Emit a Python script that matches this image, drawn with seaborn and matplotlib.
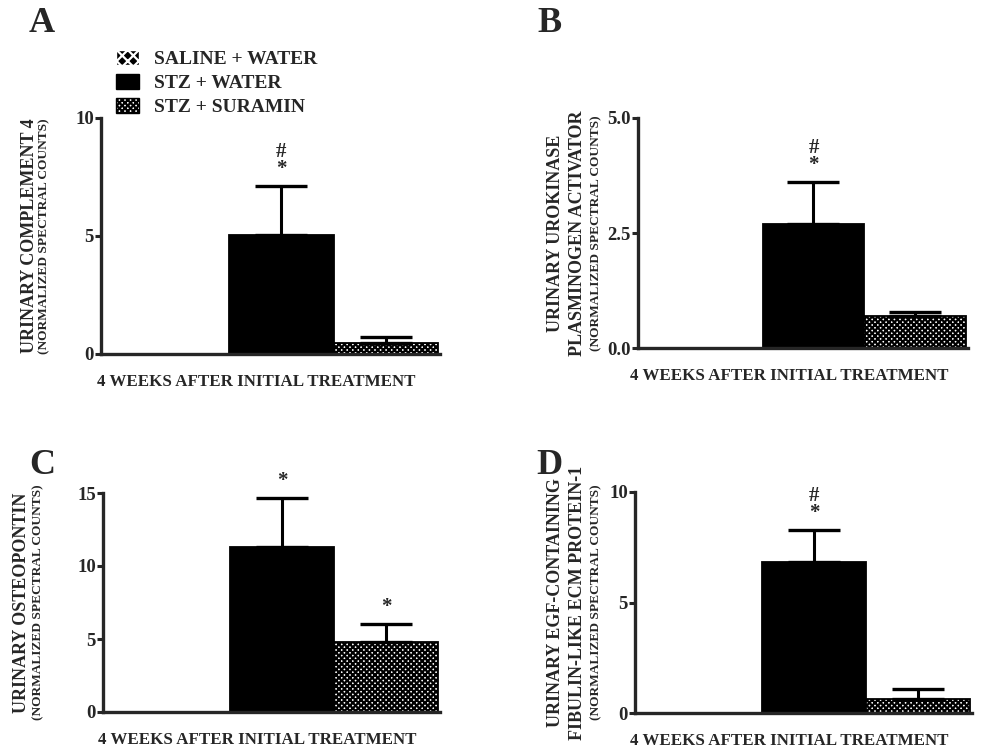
import seaborn as sns
import matplotlib.pyplot as plt
import pandas as pd
from matplotlib.patches import Patch

groups = ["SALINE + WATER", "STZ + WATER", "STZ + SURAMIN"]
timepoint = "4 WEEKS AFTER INITIAL TREATMENT"

# mean and SEM (saline group is zero in every panel)
c4_mean = [0.0, 5.05, 0.47]
c4_sem = [0.0, 2.05, 0.25]
upa_mean = [0.0, 2.70, 0.69]
upa_sem = [0.0, 0.90, 0.10]
opn_mean = [0.0, 11.3, 4.8]
opn_sem = [0.0, 3.35, 1.25]
efemp_mean = [0.0, 6.84, 0.64]
efemp_sem = [0.0, 1.43, 0.44]

c4_marks = ["", "#\n*", ""]
upa_marks = ["", "#\n*", ""]
opn_marks = ["", "*", "*"]
efemp_marks = ["", "#\n*", ""]

c4_ticks = [0, 5, 10]
upa_ticks = [0.0, 2.5, 5.0]
opn_ticks = [0, 5, 10, 15]
efemp_ticks = [0, 5, 10]

c4_label = ["URINARY COMPLEMENT 4"]
upa_label = ["URINARY UROKINASE", "PLASMINOGEN ACTIVATOR"]
opn_label = ["URINARY OSTEOPONTIN"]
efemp_label = ["URINARY EGF-CONTAINING", "FIBULIN-LIKE ECM PROTEIN-1"]

sns.set_style("ticks")
plt.rcParams["font.family"] = ["Liberation Serif", "DejaVu Serif"]
plt.rcParams["font.weight"] = "bold"
plt.rcParams["hatch.linewidth"] = 1.6

colors = ["black", "black", "white"]
edges = ["white", "black", "black"]
hatches = ["xxx", None, "xxxxxx"]
W, H = 996, 748

fig = plt.figure(figsize=(W / 100, H / 100), dpi=100)


def px_rect(left, top, right, bottom):
    return [left / W, 1 - bottom / H, (right - left) / W, (bottom - top) / H]


panels = [
    ("A", (101, 118, 440, 354), c4_mean, c4_sem, c4_marks, c4_ticks, c4_label, "%d", (42, 24), [30], 44),
    ("B", (638, 118, 968, 348), upa_mean, upa_sem, upa_marks, upa_ticks, upa_label, "%.1f", (549, 24), [555, 577], 596),
    ("C", (103, 493, 440, 712), opn_mean, opn_sem, opn_marks, opn_ticks, opn_label, "%d", (42, 465), [22], 38),
    ("D", (635, 492, 972, 713), efemp_mean, efemp_sem, efemp_marks, efemp_ticks, efemp_label, "%d", (549, 465), [555, 577], 596),
]

for letter, box, mean, sem, marks, ticks, ylab, fmt, lpos, lab_x, norm_x in panels:
    ax = fig.add_axes(px_rect(*box))
    df = pd.DataFrame({"time": [timepoint] * 3, "group": groups, "value": mean})
    sns.barplot(data=df, x="time", y="value", hue="group", hue_order=groups,
                palette=colors, edgecolor="black", linewidth=1.3,
                legend=False, ax=ax, width=0.8)
    for bar, h, ec in zip(ax.patches, hatches, edges):
        bar.set_edgecolor(ec)
        if h:
            bar.set_hatch(h)
    xs = [b.get_x() + b.get_width() / 2 for b in ax.patches]
    for x, m, s, mk in zip(xs, mean, sem, marks):
        if s > 0:
            ax.errorbar(x, m, yerr=[[0], [s]], fmt="none", ecolor="black",
                        elinewidth=2.2, capsize=19, capthick=2.4, zorder=1)
        if mk:
            ax.annotate(mk, (x, m + s), xytext=(0, 5), textcoords="offset points",
                        ha="center", va="bottom", fontsize=15, fontweight="bold",
                        linespacing=0.85)
    ax.set_xlim(-0.46, 0.405)
    ax.set_ylim(0, ticks[-1])
    ax.set_yticks(ticks)
    ax.yaxis.set_major_formatter(plt.FormatStrFormatter(fmt))
    ax.set_xticks([])
    ax.set_ylabel("")
    hpx = box[3] - box[1]
    ax.set_xlabel(timepoint, fontsize=12.2, fontweight="bold")
    ax.xaxis.set_label_coords(0.457, -20 / hpx, transform=ax.transAxes)
    ax.xaxis.label.set_va("top")
    sns.despine(ax=ax)
    for sp in ["left", "bottom"]:
        ax.spines[sp].set_linewidth(2.4)
    ax.tick_params(axis="y", direction="out", length=4, width=2.2,
                   labelsize=13.5, pad=1)
    for t in ax.get_yticklabels():
        t.set_fontweight("bold")

    ymid = 1 - (box[1] + box[3]) / 2 / H
    for text, x in zip(ylab, lab_x):
        fig.text(x / W, ymid, text, rotation=90, ha="center", va="center",
                 fontsize=13, fontweight="bold")
    fig.text(norm_x / W, ymid, "(NORMALIZED SPECTRAL COUNTS)", rotation=90,
             ha="center", va="center", fontsize=9.6, fontweight="bold")
    fig.text(lpos[0] / W, 1 - lpos[1] / H, letter, ha="center", va="center",
             fontsize=26, fontweight="bold")

handles = [Patch(facecolor=c, edgecolor=e, hatch=h, linewidth=1.0)
           for c, e, h in zip(colors, edges, hatches)]
fig.legend(handles, groups, loc="upper left", bbox_to_anchor=(108 / W, 1 - 42 / H),
           frameon=False, prop={"weight": "bold", "size": 14},
           handlelength=1.2, handleheight=0.8, handletextpad=0.75,
           labelspacing=0.3, borderaxespad=0)

fig.savefig("out.png", dpi=100)
